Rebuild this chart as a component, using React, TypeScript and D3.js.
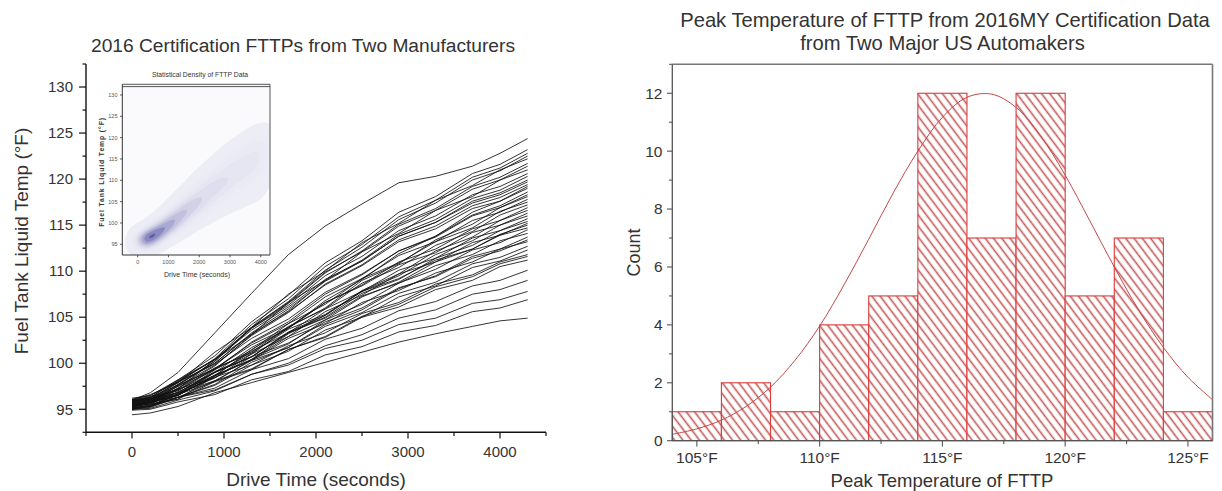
import React, { useMemo } from "react";
import * as d3 from "d3";

// ---------- Left chart data (drive time vs fuel tank liquid temperature) ----------
const driveTimes = [0, 200, 500, 900, 1300, 1700, 2100, 2500, 2900, 3300, 3700, 4000, 4300];

const fttpCurves: number[][] = [
  [96.0, 96.8, 99.0, 103.3, 107.6, 111.8, 114.9, 117.3, 119.6, 120.3, 121.4, 122.8, 124.4],
  [95.8, 96.3, 98.2, 100.8, 104.5, 107.4, 110.9, 113.3, 116.4, 118.1, 120.6, 121.6, 123.2],
  [95.5, 96.0, 97.9, 100.5, 104.2, 107.0, 110.5, 112.9, 115.9, 117.7, 120.2, 121.2, 122.8],
  [95.2, 95.7, 97.6, 100.2, 103.9, 106.7, 110.1, 112.6, 115.6, 117.4, 119.9, 120.9, 122.5],
  [96.0, 96.6, 97.9, 101.2, 103.9, 107.5, 110.0, 113.1, 115.2, 117.7, 119.3, 121.0, 122.2],
  [95.4, 95.8, 97.7, 100.2, 103.8, 106.5, 109.8, 112.2, 115.1, 116.8, 119.2, 120.2, 121.7],
  [95.7, 96.1, 98.0, 100.4, 103.9, 106.6, 109.9, 112.1, 114.9, 116.6, 118.9, 119.9, 121.4],
  [95.3, 95.9, 97.2, 100.4, 103.1, 106.6, 109.0, 112.1, 114.1, 116.6, 118.1, 119.9, 121.0],
  [95.9, 96.3, 98.1, 100.4, 103.8, 106.3, 109.5, 111.6, 114.4, 116.0, 118.3, 119.2, 120.6],
  [95.1, 95.5, 97.3, 99.7, 103.1, 105.7, 109.0, 111.2, 114.0, 115.6, 117.9, 118.8, 120.3],
  [95.6, 96.0, 97.7, 100.0, 103.3, 105.9, 108.9, 111.1, 113.8, 115.3, 117.6, 118.5, 119.9],
  [96.1, 96.5, 98.2, 100.4, 103.6, 106.1, 109.1, 111.1, 113.8, 115.3, 117.4, 118.3, 119.7],
  [95.4, 95.8, 97.5, 99.8, 103.0, 105.5, 108.6, 110.7, 113.4, 114.9, 117.1, 118.0, 119.4],
  [95.0, 95.3, 96.6, 98.6, 101.5, 103.8, 106.8, 109.1, 111.9, 113.8, 116.4, 117.6, 119.2],
  [95.8, 96.2, 97.9, 100.0, 103.2, 105.6, 108.5, 110.6, 113.2, 114.6, 116.8, 117.6, 119.0],
  [95.5, 95.8, 97.3, 99.3, 102.3, 104.5, 107.5, 109.6, 112.2, 113.8, 116.1, 117.1, 118.6],
  [96.2, 96.5, 98.0, 99.9, 102.7, 104.8, 107.7, 109.7, 112.2, 113.7, 116.0, 116.9, 118.3],
  [95.3, 95.7, 96.5, 99.0, 101.0, 103.9, 106.0, 109.0, 110.8, 113.4, 115.1, 116.9, 118.1],
  [95.7, 96.0, 97.5, 99.4, 102.2, 104.3, 107.2, 109.2, 111.7, 113.2, 115.5, 116.4, 117.8],
  [95.2, 95.7, 96.6, 99.3, 101.4, 104.3, 106.4, 109.2, 110.9, 113.2, 114.7, 116.5, 117.5],
  [95.9, 96.3, 97.0, 99.4, 101.2, 104.0, 105.9, 108.7, 110.4, 112.8, 114.3, 116.1, 117.2],
  [95.4, 95.7, 97.1, 99.0, 101.7, 103.8, 106.6, 108.5, 111.0, 112.4, 114.6, 115.5, 116.9],
  [95.0, 95.4, 96.1, 98.6, 100.4, 103.2, 105.2, 107.9, 109.7, 112.2, 113.7, 115.5, 116.6],
  [96.0, 96.3, 97.6, 99.4, 102.0, 103.9, 106.6, 108.4, 110.7, 112.0, 114.2, 115.0, 116.3],
  [95.6, 96.0, 96.6, 99.0, 100.7, 103.4, 105.2, 107.8, 109.5, 111.8, 113.3, 115.0, 116.0],
  [95.3, 95.6, 96.9, 98.7, 101.3, 103.3, 105.9, 107.8, 110.1, 111.4, 113.6, 114.4, 115.7],
  [95.8, 96.2, 96.8, 99.0, 100.7, 103.3, 105.0, 107.6, 109.1, 111.4, 112.8, 114.4, 115.4],
  [95.1, 95.4, 96.7, 98.4, 101.0, 102.9, 105.6, 107.4, 109.7, 111.0, 113.1, 113.9, 115.2],
  [95.5, 95.9, 96.5, 98.7, 100.4, 102.9, 104.7, 107.2, 108.8, 111.0, 112.4, 114.0, 115.0],
  [96.0, 96.4, 97.1, 99.5, 101.1, 103.7, 105.3, 107.8, 109.2, 111.2, 112.4, 113.9, 114.7],
  [95.2, 95.4, 96.6, 98.0, 100.4, 102.1, 104.7, 106.4, 108.7, 110.2, 112.3, 113.1, 114.5],
  [95.7, 96.1, 96.8, 99.1, 100.7, 103.3, 104.9, 107.3, 108.7, 110.6, 111.8, 113.3, 114.1],
  [95.0, 95.2, 96.3, 97.7, 100.1, 101.7, 104.2, 105.8, 108.1, 109.5, 111.6, 112.4, 113.7],
  [95.9, 96.1, 97.2, 98.4, 100.7, 102.2, 104.5, 106.0, 108.2, 109.4, 111.4, 112.2, 113.4],
  [95.4, 95.8, 96.5, 98.7, 100.3, 102.7, 104.3, 106.6, 107.9, 109.8, 111.0, 112.4, 113.2],
  [95.6, 95.8, 96.8, 98.1, 100.3, 101.7, 104.0, 105.5, 107.6, 108.8, 110.8, 111.5, 112.7],
  [95.1, 95.3, 96.3, 97.6, 99.8, 101.3, 103.6, 105.0, 107.2, 108.4, 110.4, 111.1, 112.3],
  [95.8, 96.1, 96.6, 98.5, 99.8, 101.9, 103.3, 105.4, 106.6, 108.6, 109.6, 111.0, 111.8],
  [95.3, 95.6, 96.1, 98.0, 99.3, 101.5, 102.9, 105.1, 106.4, 108.3, 109.4, 110.8, 111.6],
  [95.5, 95.8, 96.3, 98.1, 99.4, 101.5, 102.8, 105.0, 106.1, 108.0, 109.0, 110.5, 111.2],
  [95.2, 95.3, 96.3, 97.3, 99.3, 100.5, 102.6, 103.8, 105.7, 106.7, 108.4, 109.0, 110.1],
  [95.0, 95.1, 96.0, 97.0, 98.8, 100.0, 101.9, 103.1, 104.9, 105.8, 107.5, 108.0, 109.0],
  [95.4, 95.5, 96.3, 97.1, 98.8, 99.8, 101.6, 102.5, 104.2, 104.9, 106.5, 106.9, 107.8],
  [94.9, 95.0, 95.8, 96.6, 98.2, 99.1, 100.9, 101.8, 103.4, 104.1, 105.6, 106.0, 106.9],
  [94.4, 94.6, 95.3, 96.8, 97.9, 99.0, 100.1, 101.2, 102.3, 103.2, 104.0, 104.6, 104.9],
];

const leftYTicks = [95, 100, 105, 110, 115, 120, 125, 130];
const leftYMinor = [92.5, 97.5, 102.5, 107.5, 112.5, 117.5, 122.5, 127.5, 132.5];
const leftXTicks = [0, 1000, 2000, 3000, 4000];
const leftXMinor = [-500, 500, 1500, 2500, 3500, 4500];
const insetYTicks = [95, 100, 105, 110, 115, 120, 125, 130];
const insetXTicks = [0, 1000, 2000, 3000, 4000];

// ---------- Right chart data (histogram of peak temperature) ----------
const binStarts = [104, 106, 108, 110, 112, 114, 116, 118, 120, 122, 124];
const binWidth = 2;
const binCounts = [1, 2, 1, 4, 5, 12, 7, 12, 5, 7, 1];
const fitTemps = [104, 105, 106, 107, 108, 109, 110, 111, 112, 113, 114, 115, 116, 117, 118, 119, 120, 121, 122, 123, 124, 125, 126];
const fitCounts = [0.22, 0.41, 0.71, 1.18, 1.85, 2.78, 3.96, 5.39, 6.96, 8.56, 10.0, 11.17, 11.86, 11.97, 11.51, 10.53, 9.17, 7.6, 6.0, 4.5, 3.22, 2.19, 1.42];
const rightYTicks = [0, 2, 4, 6, 8, 10, 12];
const rightYMinor = [1, 3, 5, 7, 9, 11, 13];
const rightXTicks = [105, 110, 115, 120, 125];
const rightXMinor = [107.5, 112.5, 117.5, 122.5];

const FONT = "'Liberation Sans', Arial, Helvetica, sans-serif";
const TXT = "#333";

export default function App() {
  // left main scales
  const lx = d3.scaleLinear().domain([-500, 4500]).range([86, 546]);
  const ly = d3.scaleLinear().domain([92.5, 132.5]).range([432.3, 64]);
  // inset scales
  const ix = d3.scaleLinear().domain([-500, 4300]).range([122.3, 270]);
  const iy = d3.scaleLinear().domain([92.5, 132.5]).range([255, 84.3]);
  // right scales
  const rx = d3.scaleLinear().domain([104, 126]).range([672.3, 1212.5]);
  const ry = d3.scaleLinear().domain([0, 13]).range([440.7, 64.3]);

  const lineGen = d3
    .line<number>()
    .x((_, i) => lx(driveTimes[i]))
    .y((d) => ly(d));

  const contours = useMemo(() => {
    const pts: [number, number][] = [];
    fttpCurves.forEach((c) => {
      const f = d3.scaleLinear().domain(driveTimes).range(c);
      for (let t = 0; t <= 4300; t += 50) pts.push([ix(t), iy(f(t))]);
    });
    return d3
      .contourDensity<[number, number]>()
      .x((d) => d[0])
      .y((d) => d[1])
      .size([320, 320])
      .cellSize(3)
      .bandwidth(7.5)
      .thresholds(11)(pts);
  }, []);
  const geo = d3.geoPath();
  const nC = contours.length;
  const cColor = (i: number) =>
    d3.interpolateRgb("#ededf6", "#6262aa")(Math.pow(i / Math.max(1, nC - 1), 3.2));

  const fitLine = d3
    .line<number>()
    .x((_, i) => rx(fitTemps[i]))
    .y((d) => ry(d))
    .curve(d3.curveCatmullRom);

  return (
    <svg
      width={1222}
      height={491}
      style={{ position: "absolute", left: 0, top: 0, background: "#fff" }}
      fontFamily={FONT}
    >
      <defs>
        <pattern
          id="hatch"
          patternUnits="userSpaceOnUse"
          width={6.6}
          height={10}
          patternTransform="rotate(-37)"
        >
          <rect width={6.6} height={10} fill="#fff" />
          <line x1={3.3} y1={0} x2={3.3} y2={10} stroke="#c25a5a" strokeWidth={1.6} />
        </pattern>
        <clipPath id="insetClip">
          <rect x={122.3} y={86} width={147.7} height={169} />
        </clipPath>
        <clipPath id="rightClip">
          <rect x={672.3} y={64.3} width={540.2} height={376.4} />
        </clipPath>
      </defs>

      {/* ================= LEFT CHART ================= */}
      <text x={303} y={51.5} textAnchor="middle" fontSize={19.2} fill={TXT}>
        2016 Certification FTTPs from Two Manufacturers
      </text>

      <g>
        {fttpCurves.map((c, k) => (
          <path key={k} d={lineGen(c) || ""} fill="none" stroke="#111" strokeWidth={0.85} />
        ))}
      </g>

      {/* axes */}
      <line x1={86} y1={64} x2={86} y2={432.3} stroke="#111" strokeWidth={1.4} />
      <line x1={86} y1={432.3} x2={546} y2={432.3} stroke="#111" strokeWidth={1.4} />
      {leftYTicks.map((v) => (
        <g key={"ly" + v}>
          <line x1={79} x2={86} y1={ly(v)} y2={ly(v)} stroke="#111" strokeWidth={1.2} />
          <text x={73} y={ly(v)} dy="0.35em" textAnchor="end" fontSize={15} fill={TXT}>
            {v}
          </text>
        </g>
      ))}
      {leftYMinor.map((v) => (
        <line key={"lym" + v} x1={82.5} x2={86} y1={ly(v)} y2={ly(v)} stroke="#111" strokeWidth={1.2} />
      ))}
      {leftXTicks.map((v) => (
        <g key={"lx" + v}>
          <line x1={lx(v)} x2={lx(v)} y1={432.3} y2={438.5} stroke="#111" strokeWidth={1.2} />
          <text x={lx(v)} y={457.3} textAnchor="middle" fontSize={15} fill={TXT}>
            {v}
          </text>
        </g>
      ))}
      {leftXMinor.map((v) => (
        <line key={"lxm" + v} x1={lx(v)} x2={lx(v)} y1={432.3} y2={436} stroke="#111" strokeWidth={1.2} />
      ))}
      <text
        transform="translate(28,241) rotate(-90)"
        textAnchor="middle"
        fontSize={19}
        fill={TXT}
      >
        Fuel Tank Liquid Temp (°F)
      </text>
      <text x={316} y={486} textAnchor="middle" fontSize={19} fill={TXT}>
        Drive Time (seconds)
      </text>

      {/* ---------- inset ---------- */}
      <rect x={122.3} y={84.3} width={147.7} height={170.7} fill="#fafafd" />
      <g clipPath="url(#insetClip)">
        {contours.map((c, i) => (
          <path key={i} d={geo(c as any) || ""} fill={cColor(i)} stroke="none" />
        ))}
      </g>
      <text x={200} y={77} textAnchor="middle" fontSize={6.8} fill="#333">
        Statistical Density of FTTP Data
      </text>
      <line x1={122.3} y1={84.3} x2={270} y2={84.3} stroke="#444" strokeWidth={0.9} />
      <line x1={122.3} y1={86.6} x2={270} y2={86.6} stroke="#444" strokeWidth={0.9} />
      <line x1={270} y1={84.3} x2={270} y2={255} stroke="#444" strokeWidth={0.9} />
      <line x1={122.3} y1={84.3} x2={122.3} y2={255} stroke="#333" strokeWidth={1} />
      <line x1={122.3} y1={255} x2={270} y2={255} stroke="#333" strokeWidth={1} />
      {insetYTicks.map((v) => (
        <g key={"iy" + v}>
          <line x1={120} x2={122.3} y1={iy(v)} y2={iy(v)} stroke="#333" strokeWidth={0.8} />
          <text x={117.5} y={iy(v)} dy="0.35em" textAnchor="end" fontSize={5.5} fill="#555">
            {v}
          </text>
        </g>
      ))}
      {insetXTicks.map((v) => (
        <g key={"ix" + v}>
          <line x1={ix(v)} x2={ix(v)} y1={255} y2={257.3} stroke="#333" strokeWidth={0.8} />
          <text x={ix(v)} y={264} textAnchor="middle" fontSize={5.5} fill="#555">
            {v}
          </text>
        </g>
      ))}
      <text
        transform="translate(103.5,172) rotate(-90)"
        textAnchor="middle"
        fontSize={6.8}
        fontWeight="bold"
        letterSpacing={0.9}
        fill="#333"
      >
        Fuel Tank Liquid Temp (°F)
      </text>
      <text x={197} y={277} textAnchor="middle" fontSize={7} fill="#333">
        Drive Time (seconds)
      </text>

      {/* ================= RIGHT CHART ================= */}
      <text x={945} y={26.5} textAnchor="middle" fontSize={20.2} fill={TXT}>
        Peak Temperature of FTTP from 2016MY Certification Data
      </text>
      <text x={942.5} y={50} textAnchor="middle" fontSize={20.2} fill={TXT}>
        from Two Major US Automakers
      </text>

      {binStarts.map((b, i) => (
        <rect
          key={"bar" + b}
          x={rx(b)}
          y={ry(binCounts[i])}
          width={rx(b + binWidth) - rx(b)}
          height={ry(0) - ry(binCounts[i])}
          fill="url(#hatch)"
          stroke="#dd3a3a"
          strokeWidth={1.1}
        />
      ))}
      <path
        d={fitLine(fitCounts) || ""}
        fill="none"
        stroke="#c44848"
        strokeWidth={1}
        clipPath="url(#rightClip)"
      />

      {/* frame */}
      <line x1={672.3} y1={64.3} x2={1212.5} y2={64.3} stroke="#777" strokeWidth={1.6} />
      <line x1={1212.5} y1={64.3} x2={1212.5} y2={440.7} stroke="#777" strokeWidth={1.6} />
      <line x1={672.3} y1={64.3} x2={672.3} y2={440.7} stroke="#555" strokeWidth={1.3} />
      <line x1={672.3} y1={440.7} x2={1212.5} y2={440.7} stroke="#555" strokeWidth={1.3} />
      {rightYTicks.map((v) => (
        <g key={"ry" + v}>
          <line x1={667} x2={672.3} y1={ry(v)} y2={ry(v)} stroke="#555" strokeWidth={1.1} />
          <text x={662.5} y={ry(v)} dy="0.35em" textAnchor="end" fontSize={15.5} fill={TXT}>
            {v}
          </text>
        </g>
      ))}
      {rightYMinor.map((v) => (
        <line key={"rym" + v} x1={669} x2={672.3} y1={ry(v)} y2={ry(v)} stroke="#555" strokeWidth={1.1} />
      ))}
      {rightXTicks.map((v) => (
        <g key={"rx" + v}>
          <line x1={rx(v)} x2={rx(v)} y1={440.7} y2={446.5} stroke="#555" strokeWidth={1.1} />
          <text x={rx(v)} y={463.3} textAnchor="middle" fontSize={15.5} fill={TXT}>
            {v}°F
          </text>
        </g>
      ))}
      {rightXMinor.map((v) => (
        <line key={"rxm" + v} x1={rx(v)} x2={rx(v)} y1={440.7} y2={444} stroke="#555" strokeWidth={1.1} />
      ))}
      <text
        transform="translate(639.5,252.5) rotate(-90)"
        textAnchor="middle"
        fontSize={18}
        fill={TXT}
      >
        Count
      </text>
      <text x={942} y={486.5} textAnchor="middle" fontSize={18.5} fill={TXT}>
        Peak Temperature of FTTP
      </text>
    </svg>
  );
}
